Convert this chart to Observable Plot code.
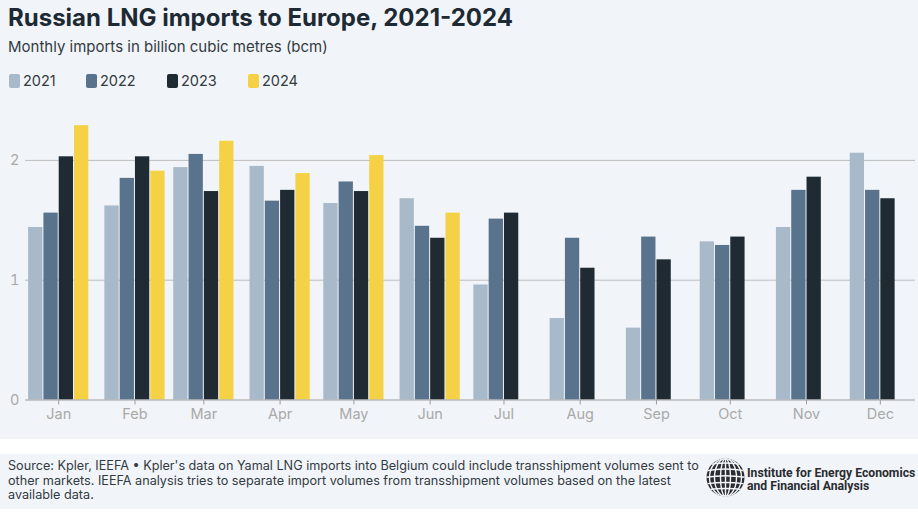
<!DOCTYPE html>
<html>
<head>
<meta charset="utf-8">
<script src="https://cdn.jsdelivr.net/npm/d3@7"></script>
<script src="https://cdn.jsdelivr.net/npm/@observablehq/plot@0.6"></script>
<style>
  body { margin: 0; background: #ffffff; font-family: Inter, "Noto Sans", sans-serif; }
  #top { position: absolute; left: 0; top: 0; width: 918px; height: 439px; background: #f1f5fa; }
  #title { position: absolute; left: 8px; top: 3px; font-size: 24px; font-weight: 700; color: #1e2a33; line-height: 1.21; white-space: nowrap; }
  #subtitle { position: absolute; left: 8px; top: 38px; font-size: 15px; color: #333a40; line-height: 1.21; white-space: nowrap; }
  #legend { position: absolute; left: 9px; top: 72px; height: 18px; }
  .item { position: absolute; top: 0; display: flex; align-items: center; font-size: 14.5px; color: #333a40; white-space: nowrap; }
  .sw { width: 11px; height: 14px; border-radius: 2px; margin-right: 3px; }
  #chart { position: absolute; left: 0; top: 100px; }
  #foot { position: absolute; left: 0; top: 454px; width: 918px; height: 55px; background: #f1f5fa; }
  #note { position: absolute; left: 8px; top: 5px; font-size: 12.65px; line-height: 14.5px; color: #333a40; white-space: nowrap; }
  #logo { position: absolute; left: 700px; top: 0; }
</style>
</head>
<body>
<div id="top">
  <div id="title">Russian LNG imports to Europe, 2021-2024</div>
  <div id="subtitle">Monthly imports in billion cubic metres (bcm)</div>
  <div id="legend"></div>
  <div id="chart"></div>
</div>
<div id="foot">
  <div id="note">Source: Kpler, IEEFA • Kpler's data on Yamal LNG imports into Belgium could include transshipment volumes sent to<br>other markets. IEEFA analysis tries to separate import volumes from transshipment volumes based on the latest<br>available data.</div>
  <svg id="logo" width="218" height="55">
    <defs><clipPath id="gc"><circle cx="25.5" cy="23.5" r="19"/></clipPath></defs>
    <circle cx="25.5" cy="23.5" r="19" fill="#2a2c30"/>
    <g clip-path="url(#gc)" fill="none" stroke="#f1f5fa" stroke-width="1.4">
      <ellipse cx="25.5" cy="23.5" rx="5" ry="19"/>
      <ellipse cx="25.5" cy="23.5" rx="11" ry="19"/>
      <ellipse cx="25.5" cy="23.5" rx="16" ry="19"/>
      <line x1="25.5" y1="4" x2="25.5" y2="43"/>
      <path d="M6,11 Q25.5,7 45,11"/>
      <path d="M5,17 Q25.5,13 46,17"/>
      <path d="M5,23.5 Q25.5,20 46,23.5"/>
      <path d="M5,30 Q25.5,27 46,30"/>
      <path d="M6,36 Q25.5,33 45,36"/>
    </g>
    <g font-family="Roboto" font-weight="700" font-size="12.2" fill="#2a2c30">
      <text x="47" y="22.5">Institute for Energy Economics</text>
      <text x="47" y="36">and Financial Analysis</text>
    </g>
  </svg>
</div>
<script>
// ---- data ----
const months = ["Jan","Feb","Mar","Apr","May","Jun","Jul","Aug","Sep","Oct","Nov","Dec"];
const years = ["2021","2022","2023","2024"];
const colors = ["#a8b9ca","#5a738c","#1f2a33","#f5d245"];
const y2021 = [1.44, 1.62, 1.94, 1.95, 1.64, 1.68, 0.96, 0.68, 0.60, 1.32, 1.44, 2.06];
const y2022 = [1.56, 1.85, 2.05, 1.66, 1.82, 1.45, 1.51, 1.35, 1.36, 1.29, 1.75, 1.75];
const y2023 = [2.03, 2.03, 1.74, 1.75, 1.74, 1.35, 1.56, 1.10, 1.17, 1.36, 1.86, 1.68];
const y2024 = [2.29, 1.91, 2.16, 1.89, 2.04, 1.56, null, null, null, null, null, null];
const yTicks = [0, 1, 2];

// ---- legend ----
const legendX = [0, 77, 158, 239];
const legend = document.getElementById("legend");
years.forEach((yr, i) => {
  const it = document.createElement("div");
  it.className = "item";
  it.style.left = legendX[i] + "px";
  it.innerHTML = `<span class="sw" style="background:${colors[i]}"></span>${yr}`;
  legend.appendChild(it);
});

// ---- table ----
const series = [y2021, y2022, y2023, y2024];
const DAY = 24 * 3600 * 1000;
const slot = 6.22 * DAY; // width of one bar slot on the time axis
const monthDates = months.map((m, i) => new Date(Date.UTC(2021, i, 1)));
const rows = [];
series.forEach((vals, s) => {
  vals.forEach((v, m) => {
    if (v == null) return;
    const t = monthDates[m].getTime();
    rows.push({
      year: years[s],
      month: months[m],
      value: v,
      x1: new Date(t + (s - 2) * slot),
      x2: new Date(t + (s - 1) * slot)
    });
  });
});

const chart = Plot.plot({
  width: 918,
  height: 339,
  marginLeft: 25,
  marginRight: 3,
  marginTop: 0,
  marginBottom: 39.5,
  style: { background: "transparent", fontFamily: "Inter, sans-serif", fontSize: "14.5px", color: "#a9a9a9", overflow: "visible" },
  x: { type: "utc", domain: [new Date(Date.UTC(2021, 0, 1) - 13.5 * DAY), new Date(Date.UTC(2021, 0, 1) + 348.3 * DAY)] },
  y: { domain: [0, 2.5] },
  color: { domain: years, range: colors },
  marks: [
    Plot.gridY(yTicks.filter(d => d > 0), { stroke: "#bdbdbd", strokeOpacity: 1 }),
    Plot.rectY(rows, { x1: "x1", x2: "x2", y: "value", fill: "year", insetLeft: 0.5, insetRight: 0.5 }),
    Plot.ruleY([0], { stroke: "#9c9c9c" }),
    Plot.axisX({ ticks: monthDates, tickFormat: d => months[d.getUTCMonth()], tickSize: 5, tickPadding: 4, stroke: "#9c9c9c", fill: "#a9a9a9", label: null }),
    Plot.axisY({ ticks: yTicks, tickSize: 0, tickPadding: 6, fill: "#a9a9a9", label: null, tickFormat: d => String(d) })
  ]
});
document.getElementById("chart").appendChild(chart);
</script>
</body>
</html>
